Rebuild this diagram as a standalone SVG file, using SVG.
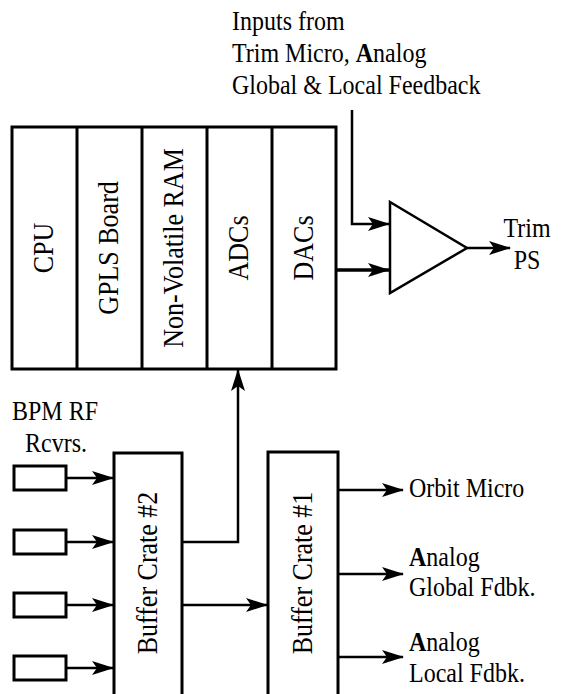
<svg xmlns="http://www.w3.org/2000/svg" width="563" height="694" viewBox="0 0 563 694">
  <style>
    .box { fill: #fff; stroke: #000; stroke-width: 3; }
    .thin { fill: none; stroke: #000; stroke-width: 2.5; }
    .wire { fill: none; stroke: #000; stroke-width: 2.5; marker-end: url(#arrow); }
    .bus { fill: none; stroke: #000; stroke-width: 3.5; marker-end: url(#arrow); }
    .lbl { font-size: 24px; }
    .vlbl { font-size: 26px; text-anchor: middle; }
    .mid { text-anchor: middle; }
    .b { font-weight: bold; }
  </style>
  <defs>
    <!-- barbed arrowhead, tip placed at the path end -->
    <marker id="arrow" markerUnits="userSpaceOnUse" markerWidth="24" markerHeight="16" refX="21" refY="7" orient="auto">
      <path d="M0,0 L22,7 L0,14 L5,7 Z" fill="#000"/>
    </marker>
  </defs>
  <rect width="563" height="694" fill="#fff"/>

  <g font-family="'Liberation Serif', 'Times New Roman', serif" fill="#000">
  <!-- controller crate with its five modules -->
  <g id="crate">
    <rect class="box" x="12" y="127" width="324" height="242"/>
    <line class="box" x1="77" y1="127" x2="77" y2="369"/>
    <line class="box" x1="142" y1="127" x2="142" y2="369"/>
    <line class="box" x1="207" y1="127" x2="207" y2="369"/>
    <line class="box" x1="272" y1="127" x2="272" y2="369"/>
  </g>
  <!-- module names read bottom-to-top; glyphs slightly tall -->
  <g id="cpu"><text class="vlbl" transform="translate(44.5,248) rotate(-90) scale(1,1.12)" y="8">CPU</text></g>
  <g id="gpls"><text class="vlbl" transform="translate(109.5,248) rotate(-90) scale(1,1.12)" y="8">GPLS Board</text></g>
  <g id="nvram"><text class="vlbl" transform="translate(174.5,248) rotate(-90) scale(1,1.12)" y="8">Non-Volatile RAM</text></g>
  <g id="adcs"><text class="vlbl" transform="translate(239.5,248) rotate(-90) scale(1,1.12)" y="8">ADCs</text></g>
  <g id="dacs"><text class="vlbl" transform="translate(304,248) rotate(-90) scale(1,1.12)" y="8">DACs</text></g>

  <!-- summing amplifier -->
  <g id="amp">
    <polygon class="thin" points="390,202 467,248 390,293"/>
  </g>

  <g id="inputs-label" class="lbl">
    <text transform="matrix(1,0,0,1.12,232,30)">Inputs from</text>
    <text transform="matrix(1,0,0,1.12,232,62)">Trim Micro, <tspan class="b">A</tspan>nalog</text>
    <text transform="matrix(1,0,0,1.12,232,94)">Global &amp; Local Feedback</text>
  </g>
  <g id="trim-ps" class="lbl">
    <text class="mid" transform="matrix(1,0,0,1.12,527,237)">Trim</text>
    <text class="mid" transform="matrix(1,0,0,1.12,527,269)">PS</text>
  </g>

  <!-- BPM receivers -->
  <g id="rcvr-label" class="lbl">
    <text class="mid" transform="matrix(1,0,0,1.12,55,420)">BPM RF</text>
    <text class="mid" transform="matrix(1,0,0,1.12,56,452)">Rcvrs.</text>
  </g>
  <g id="rcvr1"><rect class="box" x="14" y="466" width="52" height="24"/></g>
  <g id="rcvr2"><rect class="box" x="14" y="530" width="52" height="24"/></g>
  <g id="rcvr3"><rect class="box" x="14" y="593" width="52" height="24"/></g>
  <g id="rcvr4"><rect class="box" x="14" y="656" width="52" height="24"/></g>

  <!-- buffer crates -->
  <g id="buffer2">
    <rect class="box" x="114" y="453" width="68" height="260"/>
    <text class="vlbl" transform="translate(148,573) rotate(-90) scale(1,1.12)" y="8">Buffer Crate #2</text>
  </g>
  <g id="buffer1">
    <rect class="box" x="268" y="452" width="70" height="260"/>
    <text class="vlbl" transform="translate(303,573) rotate(-90) scale(1,1.12)" y="8">Buffer Crate #1</text>
  </g>

  <!-- destinations -->
  <g id="orbit-micro" class="lbl"><text transform="matrix(1,0,0,1.12,409,497)">Orbit Micro</text></g>
  <g id="global-fdbk" class="lbl">
    <text transform="matrix(1,0,0,1.12,409,566)"><tspan class="b">A</tspan>nalog</text>
    <text transform="matrix(1,0,0,1.12,409,596)">Global Fdbk.</text>
  </g>
  <g id="local-fdbk" class="lbl">
    <text transform="matrix(1,0,0,1.12,409,651)"><tspan class="b">A</tspan>nalog</text>
    <text transform="matrix(1,0,0,1.12,409,682)">Local Fdbk.</text>
  </g>
  </g>

  <!-- connectors -->
  <g id="connectors">
    <path class="wire" d="M352,110 V224 H389"/>
    <path class="bus" d="M336,270 H389"/>
    <path class="wire" d="M467,248 H510"/>
    <path class="wire" d="M66,478 H113"/>
    <path class="wire" d="M66,542 H113"/>
    <path class="wire" d="M66,605 H113"/>
    <path class="wire" d="M66,668 H113"/>
    <path class="wire" d="M182,542 H238 V370"/>
    <path class="wire" d="M182,605 H267"/>
    <path class="wire" d="M338,490 H403"/>
    <path class="wire" d="M338,574 H403"/>
    <path class="wire" d="M338,657 H403"/>
  </g>
</svg>
